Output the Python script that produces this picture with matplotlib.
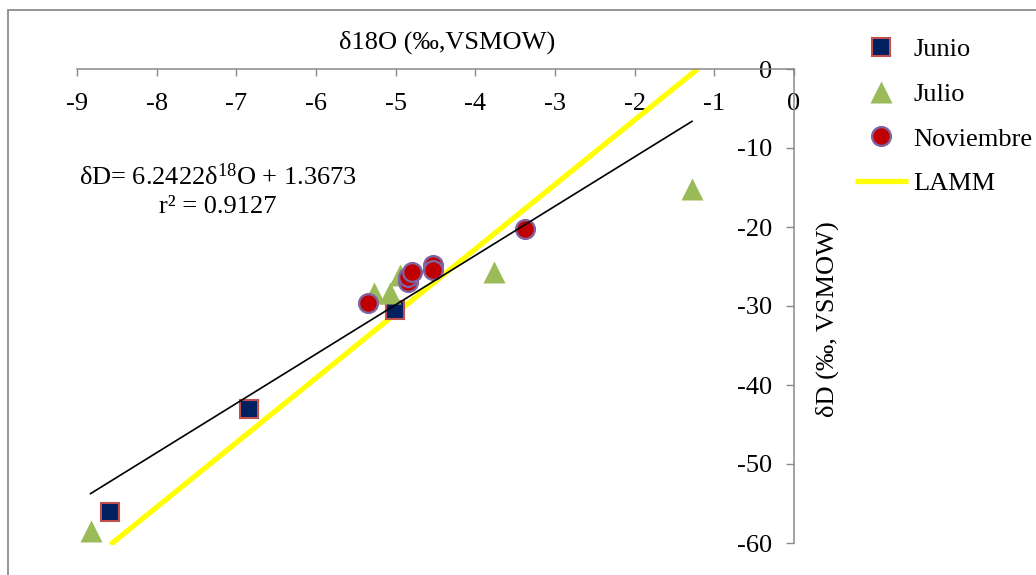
import matplotlib
matplotlib.use('Agg')
import matplotlib.pyplot as plt
from matplotlib.patches import Rectangle

plt.rcParams['font.family'] = ['Liberation Serif', 'DejaVu Serif']
plt.rcParams['axes.unicode_minus'] = False
plt.rcParams['mathtext.fontset'] = 'custom'
plt.rcParams['mathtext.rm'] = 'Liberation Serif'
plt.rcParams['mathtext.it'] = 'Liberation Serif:italic'
plt.rcParams['mathtext.default'] = 'regular'

# ---- data ----
junio_x = [-8.59, -6.84, -5.01]
junio_y = [-56.1, -43.0, -30.5]

julio_x = [-8.82, -5.27, -5.07, -4.95, -3.77, -1.28]
julio_y = [-58.5, -28.4, -28.4, -26.1, -25.7, -15.2]

nov_x = [-5.35, -4.85, -4.84, -4.80, -4.53, -4.53, -3.38]
nov_y = [-29.6, -26.9, -26.3, -25.7, -24.8, -25.5, -20.3]

lamm_x = [-8.58, -1.21]
lamm_y = [-60.2, 0.0]

trend_slope = 6.2422
trend_intercept = 1.3673
trend_x = [-8.83, -1.28]
trend_y = [trend_slope * v + trend_intercept for v in trend_x]

x_ticks = list(range(-9, 1))
y_ticks = list(range(-60, 1, 10))

# ---- layout ----
W, H = 1036, 575
fig = plt.figure(figsize=(W / 100, H / 100), dpi=100)

x0px, x1px = 77, 794
ytop, y60 = 69, 543
ppu = (y60 - ytop) / 60.0
ymin = -60.3
ybot = ytop + (-ymin) * ppu
ax = fig.add_axes([x0px / W, 1 - ybot / H, (x1px - x0px) / W, (ybot - ytop) / H])
ax.set_xlim(-9, 0)
ax.set_ylim(ymin, 0)

gray = '#898989'
fs = 19

for s in ['top', 'right']:
    ax.spines[s].set_visible(False)
ax.spines['bottom'].set_position(('data', 0))
ax.spines['left'].set_position(('data', 0))
ax.spines['left'].set_bounds(-60, 0)
for s in ['bottom', 'left']:
    ax.spines[s].set_color(gray)
    ax.spines[s].set_linewidth(1.1)

ax.set_xticks(x_ticks)
ax.set_xticklabels([str(v) for v in x_ticks])
ax.set_yticks(y_ticks)
ax.set_yticklabels([str(v) for v in y_ticks])
ax.tick_params(axis='x', direction='out', length=5, width=1, color=gray,
               labelsize=fs, pad=12.5)
ax.tick_params(axis='y', direction='out', length=5.5, width=1, color=gray,
               labelsize=fs, pad=10)

# LAMM line
ax.plot(lamm_x, lamm_y, color='#FFFF00', lw=3.8, solid_capstyle='butt',
        zorder=2, label='LAMM')

# series
ax.plot(junio_x, junio_y, ls='none', marker='s', ms=13.5, mfc='#002060',
        mec='#C0504D', mew=1.5, zorder=3, clip_on=False, label='Junio')
ax.plot(julio_x, julio_y, ls='none', marker='^', ms=15.5, mfc='#9BBB59',
        mec='none', zorder=4, clip_on=False, label='Julio')
ax.plot(nov_x, nov_y, ls='none', marker='o', ms=13.5, mfc='#C00000',
        mec='#8064A2', mew=1.7, zorder=5, clip_on=False, label='Noviembre')

# trendline
ax.plot(trend_x, trend_y, color='black', lw=1.2, zorder=6)

# legend
h, l = ax.get_legend_handles_labels()
order = [l.index(n) for n in ['Junio', 'Julio', 'Noviembre', 'LAMM']]
leg = fig.legend([h[i] for i in order], [l[i] for i in order],
                 loc='upper left', bbox_to_anchor=(855 / W, 1 - 38 / H),
                 frameon=False, fontsize=fs, borderpad=0, borderaxespad=0,
                 handlelength=2.0, handletextpad=0.2, labelspacing=0.8)

# axis titles
fig.text(447.5 / W, 1 - 49 / H, 'δ18O (‰,VSMOW)', ha='center', va='baseline',
         fontsize=fs)
fig.text(827.5 / W, 1 - 319 / H, 'δD (‰, VSMOW)', ha='center', va='center',
         rotation=90, fontsize=fs)

# equation
fig.text(218 / W, 1 - 185 / H, 'δD= 6.2422δ$^{18}$O + 1.3673', ha='center',
         va='baseline', fontsize=fs)
fig.text(218 / W, 1 - 213 / H, 'r² = 0.9127', ha='center', va='baseline',
         fontsize=fs)

# chart-area border (only left and top edges visible)
fig.add_artist(Rectangle((8 / W, -0.2), 1.5, (1 - 10 / H) + 0.2,
                         transform=fig.transFigure, fill=False,
                         ec='#8c8c8c', lw=1.3, clip_on=False))

fig.savefig('out.png', dpi=100)
